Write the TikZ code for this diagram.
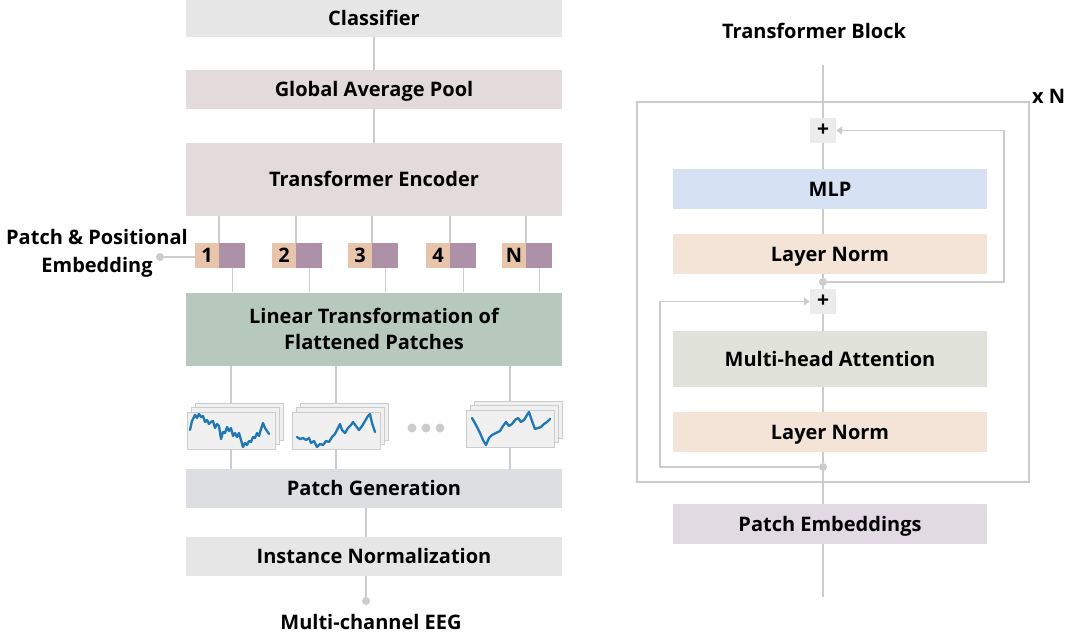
\documentclass[tikz,border=0pt]{standalone}
\usepackage{fontspec}
\setmainfont{Open Sans}
\usetikzlibrary{arrows.meta}
\definecolor{lncol}{HTML}{CCCCCC}
\definecolor{cgray}{HTML}{E6E6E6}
\definecolor{cpool}{HTML}{E3DADC}
\definecolor{clin}{HTML}{B7C8BD}
\definecolor{cpg}{HTML}{DCDEE2}
\definecolor{cpeach}{HTML}{E8C4AB}
\definecolor{cpurple}{HTML}{AC91A8}
\definecolor{cmlp}{HTML}{D6E1F3}
\definecolor{cnorm}{HTML}{F4E4D8}
\definecolor{cmha}{HTML}{E1E3DA}
\definecolor{cpe}{HTML}{E2DAE3}
\definecolor{cplus}{HTML}{ECECEC}
\definecolor{cpatch}{HTML}{F0F0F0}
\definecolor{cwave}{HTML}{1F77B4}
\tikzset{
  lbl/.style={font=\bfseries\fontsize{20}{26}\selectfont, text=black},
  oneline/.style={text height=14.3pt, text depth=0pt},
  mlbox/.style={lbl, rectangle, inner sep=0pt, minimum width=376pt, fill=#1},
  lbox/.style={lbl, oneline, rectangle, inner sep=0pt, minimum width=376pt, fill=#1},
  rbox/.style={lbl, oneline, rectangle, inner sep=0pt, minimum width=314pt, fill=#1},
  tokA/.style={lbl, oneline, rectangle, inner sep=0pt, minimum width=24pt, minimum height=25pt, fill=cpeach},
  tokB/.style={rectangle, inner sep=0pt, minimum width=26pt, minimum height=25pt, fill=cpurple},
  conn/.style={draw=lncol, line width=1.5pt},
  resid/.style={draw=lncol, line width=1.5pt, -{Triangle[width=8pt,length=6pt]}},
  pdot/.style={circle, fill=lncol, inner sep=0pt, minimum size=8pt},
  plusbox/.style={rectangle, fill=cplus, inner sep=0pt, minimum width=26pt, minimum height=25pt, font=\bfseries\fontsize{21}{21}\selectfont},
  patchr/.style={rectangle, draw=lncol, line width=1pt, fill=cpatch, inner sep=0pt, minimum width=88pt, minimum height=37pt},
  wave/.style={draw=cwave, line width=2.3pt, line join=round, line cap=round},
  gdot/.style={circle, fill=lncol, inner sep=0pt, minimum size=9pt},
}
\begin{document}
\begin{tikzpicture}[x=1pt,y=-1pt]
\useasboundingbox (0,0) rectangle (1070,638);

% ---------- left column ----------
\node[lbox=cgray, minimum height=37pt] (cls) at (374,18.5) {Classifier};
\node[lbox=cpool, minimum height=39pt] (gap) at (374,89.5) {Global Average Pool};
\node[lbox=cpool, minimum height=73pt] (enc) at (374,179.5) {Transformer Encoder};
\draw[conn] (cls.south) -- (gap.north);
\draw[conn] (gap.south) -- (enc.north);

% tokens
\foreach \i/\xa/\lab in {1/207/1, 2/284/2, 3/360/3, 4/438/4, 5/514/N}{
  \node[tokA] (t\i a) at (\xa,255.5) {\lab};
  \node[tokB, anchor=west] (t\i b) at (t\i a.east) {};
}
\node[mlbox=clin, minimum height=73pt, align=center] (lin) at (374,329) {Linear Transformation of\\Flattened Patches};
\foreach \i in {1,...,5}{
  \draw[conn] (t\i b.north west) -- (t\i b.north west |- enc.south);
  \draw[conn] (t\i b.south) -- (t\i b.south |- lin.north);
}

% embedding label
\node[lbl, align=center, font=\bfseries\fontsize{20}{28}\selectfont, inner sep=0pt] (pelab) at (97,253) {Patch \& Positional\\Embedding};
\node[pdot] (pedot) at (160,257) {};
\draw[conn] (pedot) -- (pedot -| t1a.west);

% patch stacks
\node[patchr] (p1c) at (239,422) {};
\node[patchr] (p1b) at (235,426) {};
\node[patchr] (p1a) at (231,430.5) {};
\node[patchr] (p2c) at (344,422) {};
\node[patchr] (p2b) at (340,426) {};
\node[patchr] (p2a) at (336,430.5) {};
\node[patchr] (p3c) at (518,420) {};
\node[patchr] (p3b) at (514,424) {};
\node[patchr] (p3a) at (510,428.5) {};

\draw[wave] (190,430) -- (192,421) -- (195,415) -- (197,418) -- (199,414) -- (201,417) -- (203,416) -- (205,422) -- (207,420) -- (209,424) -- (211,422) -- (213,421) -- (215,428) -- (217,424) -- (219,426) -- (221,439) -- (223,432) -- (225,433) -- (227,427) -- (229,431) -- (231,428) -- (233,436) -- (235,433) -- (237,437) -- (239,433) -- (241,440) -- (243,447) -- (245,443) -- (247,445) -- (249,441) -- (251,442) -- (253,437) -- (255,438) -- (257,433) -- (259,436) -- (261,429) -- (263,423) -- (265,428) -- (267,431) -- (269,434);
\draw[wave] (297,437) -- (300,439) -- (303,438) -- (306,440) -- (309,438) -- (311,443) -- (314,441) -- (317,447) -- (320,444) -- (323,445) -- (326,441) -- (329,442) -- (332,437) -- (335,434) -- (338,428) -- (340,424) -- (342,430) -- (345,433) -- (348,428) -- (351,425) -- (353,422) -- (356,426) -- (359,430) -- (362,426) -- (365,421) -- (368,416) -- (370,414) -- (372,423) -- (375,432);
\draw[wave] (472,418) -- (476,425) -- (480,433) -- (483,440) -- (486,445) -- (489,438) -- (492,435) -- (496,433) -- (500,431) -- (503,426) -- (506,422) -- (509,426) -- (512,424) -- (515,420) -- (518,418) -- (521,422) -- (524,420) -- (527,415) -- (529,412) -- (532,421) -- (535,429) -- (538,428) -- (541,427) -- (544,424) -- (547,422) -- (550,419);

\node[gdot] (d1) at (412,428) {};
\node[gdot] (d2) at (426,428) {};
\node[gdot] (d3) at (440,428) {};

\node[lbox=cpg, minimum height=39pt] (pg) at (374,488.5) {Patch Generation};
\draw[conn] (lin.south -| p1a.north) -- (p1c.north -| p1a.north);
\draw[conn] (lin.south -| p2a.north) -- (p2c.north -| p2a.north);
\draw[conn] (lin.south -| p3a.north) -- (p3c.north -| p3a.north);
\draw[conn] (p1a.south) -- (p1a.south |- pg.north);
\draw[conn] (p2a.south) -- (p2a.south |- pg.north);
\draw[conn] (p3a.south) -- (p3a.south |- pg.north);

\node[lbox=cgray, minimum height=39pt] (inorm) at (374,556.5) {Instance Normalization};
\coordinate (bx) at (366,0);
\draw[conn] (pg.south -| bx) -- (inorm.north -| bx);
\node[pdot] (eegdot) at (366,601) {};
\draw[conn] (inorm.south -| bx) -- (eegdot);
\node[lbl, oneline, inner sep=0pt] (eeg) at (371,622) {Multi-channel EEG};

% ---------- right column ----------
\node[lbl, oneline, inner sep=0pt] (tbt) at (814,31) {Transformer Block};
\node[rectangle, draw=lncol, line width=1.5pt, inner sep=0pt, minimum width=392pt, minimum height=380pt] (blk) at (833,292) {};
\node[lbl, oneline, inner sep=0pt, anchor=west] (xn) at (1032,96) {x N};

\coordinate (top) at (823,65);
\coordinate (bot) at (823,597);
\node[plusbox] (pl1) at (823,130.5) {+};
\node[rbox=cmlp, minimum height=40pt] (mlp) at (830,189) {MLP};
\node[rbox=cnorm, minimum height=40pt] (ln1) at (830,254) {Layer Norm};
\node[pdot] (dot1) at (823,282) {};
\node[plusbox] (pl2) at (823,301.5) {+};
\node[rbox=cmha, minimum height=56pt] (mha) at (830,359) {Multi-head Attention};
\node[rbox=cnorm, minimum height=40pt] (ln2) at (830,432) {Layer Norm};
\node[pdot] (dot2) at (823,467) {};
\node[rbox=cpe, minimum height=40pt] (pe) at (830,524) {Patch Embeddings};

\draw[conn] (top) -- (pl1.north);
\draw[conn] (pl1.south) -- (mlp.north -| pl1);
\draw[conn] (mlp.south -| pl1) -- (ln1.north -| pl1);
\draw[conn] (ln1.south -| pl1) -- (dot1) -- (pl2.north);
\draw[conn] (pl2.south) -- (mha.north -| pl2);
\draw[conn] (mha.south -| pl2) -- (ln2.north -| pl2);
\draw[conn] (ln2.south -| pl2) -- (dot2) -- (pe.north -| pl2);
\draw[conn] (pe.south -| pl2) -- (bot);

\coordinate (rr) at (1004,0);
\coordinate (ll) at (660,0);
\draw[resid] (dot1) -- (dot1 -| rr) -- (pl1 -| rr) -- (pl1.east);
\draw[resid] (dot2) -- (dot2 -| ll) -- (pl2 -| ll) -- (pl2.west);
\end{tikzpicture}
\end{document}
